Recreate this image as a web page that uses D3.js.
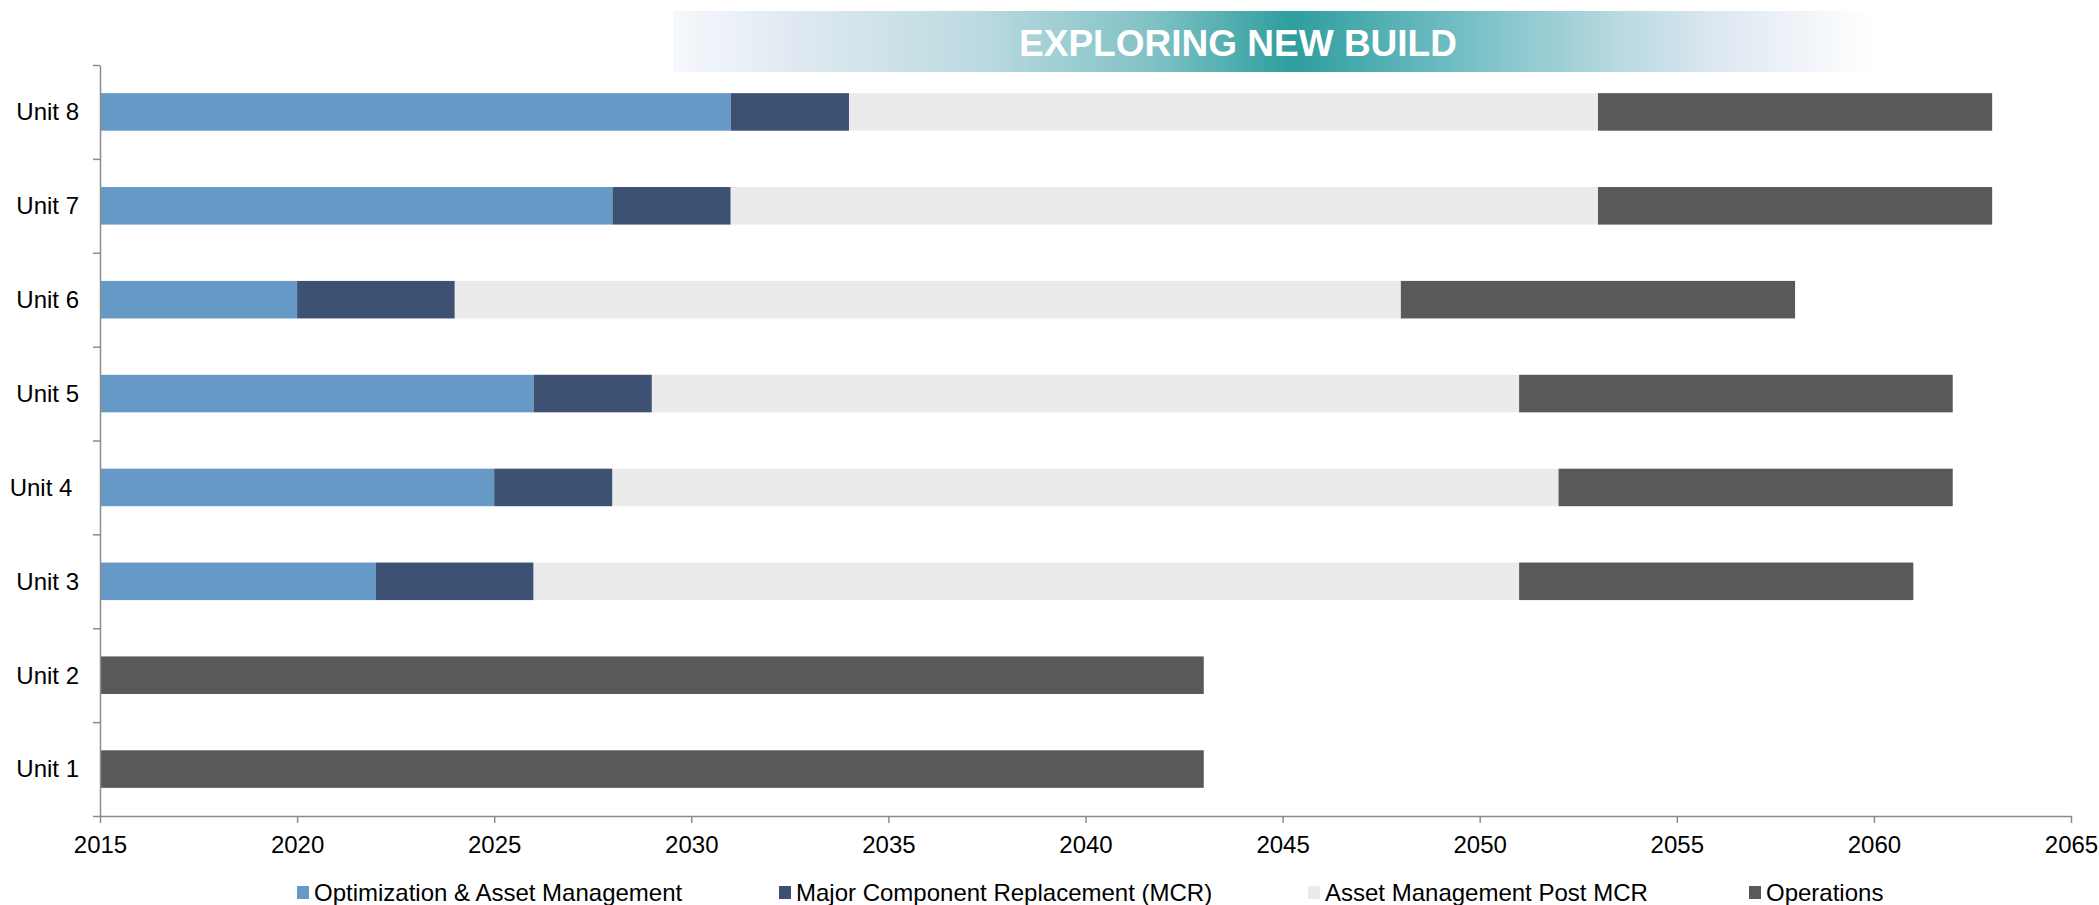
<!DOCTYPE html>
<html>
<head>
    <meta charset="utf-8" />
    <title>Exploring New Build</title>
    <style>
        body { margin: 0; background: #fff; }
        text { font-family: "Liberation Sans", Arial, sans-serif; }
    </style>
    <script src="https://cdn.jsdelivr.net/npm/d3@7"></script>
</head>
<body>
    <script>
        // data (years)
        var units = ['Unit 8', 'Unit 7', 'Unit 6', 'Unit 5', 'Unit 4 ', 'Unit 3', 'Unit 2', 'Unit 1'];
        var startYear = 2015;
        var optimization = [16, 13, 5, 11, 10, 7, 0, 0];
        var mcr          = [3, 3, 4, 3, 3, 4, 0, 0];
        var postMcr      = [19, 22, 24, 22, 24, 25, 0, 0];
        var operations   = [10, 10, 10, 11, 10, 10, 28, 28];
        var seriesNames = ['Optimization & Asset Management', 'Major Component Replacement (MCR)', 'Asset Management Post MCR', 'Operations'];
        var seriesColors = ['#6699c6', '#3d5173', '#ebebeb', '#595959'];
        var xTicks = [2015, 2020, 2025, 2030, 2035, 2040, 2045, 2050, 2055, 2060, 2065];
        var title = 'EXPLORING NEW BUILD';

        var W = 2099, H = 905;
        var margin = { top: 65, right: 28, bottom: 89, left: 100 };
        var width = W - margin.left - margin.right,
            height = H - margin.top - margin.bottom;

        var svg = d3.select('body').append('svg')
            .attr('width', W)
            .attr('height', H);

        // banner with gradient
        var grad = svg.append('defs').append('linearGradient')
            .attr('id', 'banner')
            .attr('x1', '0%').attr('x2', '100%').attr('y1', '0%').attr('y2', '0%');
        [[0, '#f5f8fc'], [0.1, '#e0e9f2'], [0.25, '#bddbe1'], [0.4, '#80c1c5'],
         [0.515, '#2e9e9e'], [0.65, '#70bdc3'], [0.78, '#b5d8df'], [0.88, '#e1e9f3'], [1, '#ffffff']]
            .forEach(function(s) {
                grad.append('stop').attr('offset', s[0]).attr('stop-color', s[1]);
            });
        svg.append('rect')
            .attr('x', 673).attr('y', 11)
            .attr('width', 1201).attr('height', 61)
            .attr('fill', 'url(#banner)');
        svg.append('text')
            .attr('x', 1238).attr('y', 56)
            .attr('text-anchor', 'middle')
            .attr('fill', '#fff')
            .style('font-size', '37px')
            .style('font-weight', 'bold')
            .text(title);

        var g = svg.append('g')
            .attr('transform', 'translate(' + margin.left + ',' + margin.top + ')');

        var x = d3.scaleLinear().domain([xTicks[0], xTicks[xTicks.length - 1]]).range([0, width]);
        var y = d3.scaleBand().domain(units).range([0, height]).paddingInner(0.6).paddingOuter(0.3);
        var yEdge = d3.scaleLinear().domain([0, units.length]).range([0, height]);

        // stack the durations
        var table = units.map(function(u, i) {
            return { unit: u, s0: optimization[i], s1: mcr[i], s2: postMcr[i], s3: operations[i] };
        });
        var stack = d3.stack().keys(['s0', 's1', 's2', 's3']);
        var layers = stack(table);

        g.selectAll('.layer')
            .data(layers)
            .enter().append('g')
                .attr('class', 'layer')
                .attr('fill', function(d, i) { return seriesColors[i]; })
            .selectAll('rect')
            .data(function(d) { return d; })
            .enter().append('rect')
                .attr('x', function(d) { return x(startYear + d[0]); })
                .attr('y', function(d) { return y(d.data.unit); })
                .attr('width', function(d) { return x(startYear + d[1]) - x(startYear + d[0]); })
                .attr('height', y.bandwidth());

        // x axis
        var xAxis = g.append('g')
            .attr('transform', 'translate(0,' + height + ')')
            .call(d3.axisBottom(x).tickValues(xTicks).tickFormat(d3.format('d')).tickSize(7).tickSizeOuter(0).tickPadding(13));
        xAxis.selectAll('text').style('font-size', '24px').attr('fill', '#000').style('font-family', '"Liberation Sans", Arial, sans-serif');

        // y axis: ticks on band edges, labels at band centres
        var yAxis = g.append('g')
            .call(d3.axisLeft(yEdge).tickValues(d3.range(units.length + 1)).tickFormat('').tickSize(7).tickSizeOuter(0));
        g.selectAll('.yl')
            .data(units)
            .enter().append('text')
                .attr('class', 'yl')
                .attr('x', -21)
                .attr('y', function(d) { return y(d) + y.bandwidth() / 2; })
                .attr('dy', '0.35em')
                .attr('text-anchor', 'end')
                .style('white-space', 'pre')
                .style('font-size', '24px')
                .text(function(d) { return d; });

        [xAxis, yAxis].forEach(function(a) {
            a.selectAll('.domain, line').attr('stroke', '#8c8c8c').attr('stroke-width', 1.5);
        });

        // legend
        var legendX = [297, 779, 1308, 1749];
        var legend = svg.selectAll('.legend')
            .data(seriesNames)
            .enter().append('g')
                .attr('class', 'legend')
                .attr('transform', function(d, i) { return 'translate(' + legendX[i] + ',886)'; });
        legend.append('rect')
            .attr('width', 12).attr('height', 13)
            .attr('fill', function(d, i) { return seriesColors[i]; });
        legend.append('text')
            .attr('x', 17).attr('y', 15)
            .style('font-size', '24px')
            .text(function(d) { return d; });
    </script>
</body>
</html>
